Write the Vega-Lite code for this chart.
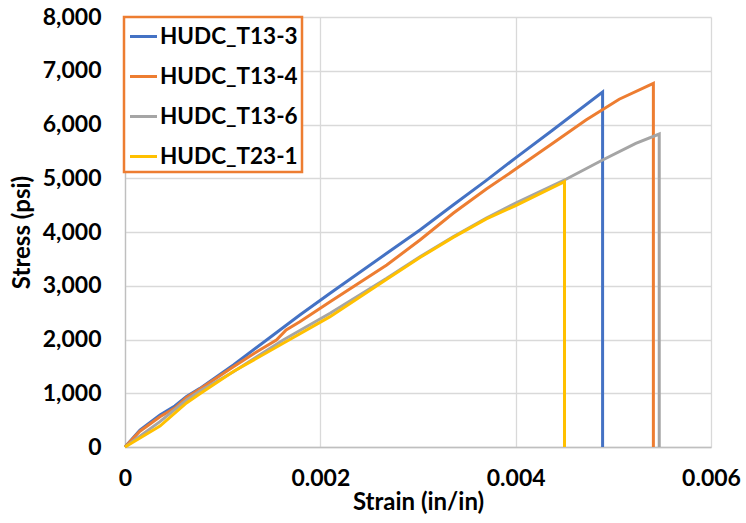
{
  "$schema": "https://vega.github.io/schema/vega-lite/v6.json",
  "width": 586,
  "height": 430,
  "autosize": {"type": "none"},
  "padding": {"left": 125, "top": 17, "right": 35, "bottom": 76},
  "background": "white",
  "data": {
    "values": [
      {"series": "HUDC_T13-3", "i": 0, "strain": 0, "stress": 0},
      {"series": "HUDC_T13-3", "i": 1, "strain": 0.000153, "stress": 316},
      {"series": "HUDC_T13-3", "i": 2, "strain": 0.000358, "stress": 595},
      {"series": "HUDC_T13-3", "i": 3, "strain": 0.00051, "stress": 763},
      {"series": "HUDC_T13-3", "i": 4, "strain": 0.00063, "stress": 940},
      {"series": "HUDC_T13-3", "i": 5, "strain": 0.000767, "stress": 1091},
      {"series": "HUDC_T13-3", "i": 6, "strain": 0.00111, "stress": 1526},
      {"series": "HUDC_T13-3", "i": 7, "strain": 0.00145, "stress": 1991},
      {"series": "HUDC_T13-3", "i": 8, "strain": 0.00179, "stress": 2456},
      {"series": "HUDC_T13-3", "i": 9, "strain": 0.0021, "stress": 2860},
      {"series": "HUDC_T13-3", "i": 10, "strain": 0.00268, "stress": 3604},
      {"series": "HUDC_T13-3", "i": 11, "strain": 0.00302, "stress": 4037},
      {"series": "HUDC_T13-3", "i": 12, "strain": 0.00336, "stress": 4502},
      {"series": "HUDC_T13-3", "i": 13, "strain": 0.0037, "stress": 4960},
      {"series": "HUDC_T13-3", "i": 14, "strain": 0.004, "stress": 5380},
      {"series": "HUDC_T13-3", "i": 15, "strain": 0.00438, "stress": 5898},
      {"series": "HUDC_T13-3", "i": 16, "strain": 0.00489, "stress": 6605},
      {"series": "HUDC_T13-3", "i": 17, "strain": 0.00489, "stress": 0},
      {"series": "HUDC_T13-4", "i": 0, "strain": 0, "stress": 0},
      {"series": "HUDC_T13-4", "i": 1, "strain": 0.00015, "stress": 290},
      {"series": "HUDC_T13-4", "i": 2, "strain": 0.000358, "stress": 564},
      {"series": "HUDC_T13-4", "i": 3, "strain": 0.00051, "stress": 725},
      {"series": "HUDC_T13-4", "i": 4, "strain": 0.00063, "stress": 920},
      {"series": "HUDC_T13-4", "i": 5, "strain": 0.000767, "stress": 1080},
      {"series": "HUDC_T13-4", "i": 6, "strain": 0.00111, "stress": 1494},
      {"series": "HUDC_T13-4", "i": 7, "strain": 0.00135, "stress": 1773},
      {"series": "HUDC_T13-4", "i": 8, "strain": 0.00155, "stress": 1991},
      {"series": "HUDC_T13-4", "i": 9, "strain": 0.00165, "stress": 2177},
      {"series": "HUDC_T13-4", "i": 10, "strain": 0.00179, "stress": 2331},
      {"series": "HUDC_T13-4", "i": 11, "strain": 0.0021, "stress": 2704},
      {"series": "HUDC_T13-4", "i": 12, "strain": 0.00268, "stress": 3386},
      {"series": "HUDC_T13-4", "i": 13, "strain": 0.00302, "stress": 3851},
      {"series": "HUDC_T13-4", "i": 14, "strain": 0.00336, "stress": 4348},
      {"series": "HUDC_T13-4", "i": 15, "strain": 0.0037, "stress": 4800},
      {"series": "HUDC_T13-4", "i": 16, "strain": 0.004, "stress": 5170},
      {"series": "HUDC_T13-4", "i": 17, "strain": 0.00438, "stress": 5650},
      {"series": "HUDC_T13-4", "i": 18, "strain": 0.00472, "stress": 6084},
      {"series": "HUDC_T13-4", "i": 19, "strain": 0.00506, "stress": 6470},
      {"series": "HUDC_T13-4", "i": 20, "strain": 0.00541, "stress": 6766},
      {"series": "HUDC_T13-4", "i": 21, "strain": 0.00541, "stress": 0},
      {"series": "HUDC_T13-6", "i": 0, "strain": 0, "stress": 0},
      {"series": "HUDC_T13-6", "i": 1, "strain": 0.000358, "stress": 471},
      {"series": "HUDC_T13-6", "i": 2, "strain": 0.00063, "stress": 874},
      {"series": "HUDC_T13-6", "i": 3, "strain": 0.000767, "stress": 1040},
      {"series": "HUDC_T13-6", "i": 4, "strain": 0.00111, "stress": 1400},
      {"series": "HUDC_T13-6", "i": 5, "strain": 0.00162, "stress": 1991},
      {"series": "HUDC_T13-6", "i": 6, "strain": 0.0021, "stress": 2487},
      {"series": "HUDC_T13-6", "i": 7, "strain": 0.00268, "stress": 3138},
      {"series": "HUDC_T13-6", "i": 8, "strain": 0.00302, "stress": 3541},
      {"series": "HUDC_T13-6", "i": 9, "strain": 0.00336, "stress": 3913},
      {"series": "HUDC_T13-6", "i": 10, "strain": 0.0037, "stress": 4260},
      {"series": "HUDC_T13-6", "i": 11, "strain": 0.004, "stress": 4540},
      {"series": "HUDC_T13-6", "i": 12, "strain": 0.00452, "stress": 4986},
      {"series": "HUDC_T13-6", "i": 13, "strain": 0.00489, "stress": 5340},
      {"series": "HUDC_T13-6", "i": 14, "strain": 0.00523, "stress": 5650},
      {"series": "HUDC_T13-6", "i": 15, "strain": 0.00547, "stress": 5823},
      {"series": "HUDC_T13-6", "i": 16, "strain": 0.00547, "stress": 0},
      {"series": "HUDC_T23-1", "i": 0, "strain": 0, "stress": 0},
      {"series": "HUDC_T23-1", "i": 1, "strain": 0.000358, "stress": 390},
      {"series": "HUDC_T23-1", "i": 2, "strain": 0.00063, "stress": 820},
      {"series": "HUDC_T23-1", "i": 3, "strain": 0.000767, "stress": 990},
      {"series": "HUDC_T23-1", "i": 4, "strain": 0.00111, "stress": 1404},
      {"series": "HUDC_T23-1", "i": 5, "strain": 0.00162, "stress": 1929},
      {"series": "HUDC_T23-1", "i": 6, "strain": 0.0021, "stress": 2425},
      {"series": "HUDC_T23-1", "i": 7, "strain": 0.00268, "stress": 3120},
      {"series": "HUDC_T23-1", "i": 8, "strain": 0.00302, "stress": 3525},
      {"series": "HUDC_T23-1", "i": 9, "strain": 0.00336, "stress": 3900},
      {"series": "HUDC_T23-1", "i": 10, "strain": 0.0037, "stress": 4245},
      {"series": "HUDC_T23-1", "i": 11, "strain": 0.004, "stress": 4490},
      {"series": "HUDC_T23-1", "i": 12, "strain": 0.0045, "stress": 4936},
      {"series": "HUDC_T23-1", "i": 13, "strain": 0.0045, "stress": 0}
    ]
  },
  "mark": {"type": "line", "strokeWidth": 3, "interpolate": "linear"},
  "encoding": {
    "x": {
      "field": "strain",
      "type": "quantitative",
      "scale": {"domain": [0, 0.006], "nice": false, "zero": true},
      "axis": {
        "title": "Strain (in/in)",
        "values": [0, 0.002, 0.004, 0.006],
        "labelExpr": "datum.value == 0 ? '0' : format(datum.value, '.3f')",
        "labelFlush": false,
        "labelPadding": 20,
        "titlePadding": 0
      }
    },
    "y": {
      "field": "stress",
      "type": "quantitative",
      "scale": {"domain": [0, 8000], "nice": false},
      "axis": {
        "title": "Stress (psi)",
        "values": [0, 1000, 2000, 3000, 4000, 5000, 6000, 7000, 8000],
        "format": ",.0f",
        "labelPadding": 24,
        "titlePadding": 8
      }
    },
    "color": {
      "field": "series",
      "type": "nominal",
      "scale": {
        "domain": ["HUDC_T13-3", "HUDC_T13-4", "HUDC_T13-6", "HUDC_T23-1"],
        "range": ["#4472C4", "#ED7D31", "#A5A5A5", "#FFC000"]
      },
      "legend": {
        "title": null,
        "orient": "none",
        "legendX": -1,
        "legendY": 0,
        "symbolType": "stroke",
        "symbolSize": 730,
        "symbolStrokeWidth": 3,
        "labelFont": "Lato",
        "labelFontWeight": "bold",
        "labelFontSize": 22.5,
        "labelColor": "#000000",
        "labelOffset": 1,
        "rowPadding": 13,
        "padding": 4,
        "strokeColor": "#ED7D31",
        "fillColor": "white"
      }
    },
    "order": {"field": "i", "type": "quantitative"}
  },
  "config": {
    "view": {"stroke": null},
    "legend": {"strokeWidth": 2.5},
    "axis": {
      "labelFont": "Lato",
      "labelFontWeight": "bold",
      "labelFontSize": 23,
      "labelColor": "#000000",
      "titleFont": "Lato",
      "titleFontWeight": "bold",
      "titleFontSize": 24,
      "titleColor": "#000000",
      "ticks": false,
      "grid": true,
      "gridColor": "#D9D9D9",
      "gridWidth": 1.3,
      "domainColor": "#BFBFBF",
      "domainWidth": 1.3
    }
  }
}
